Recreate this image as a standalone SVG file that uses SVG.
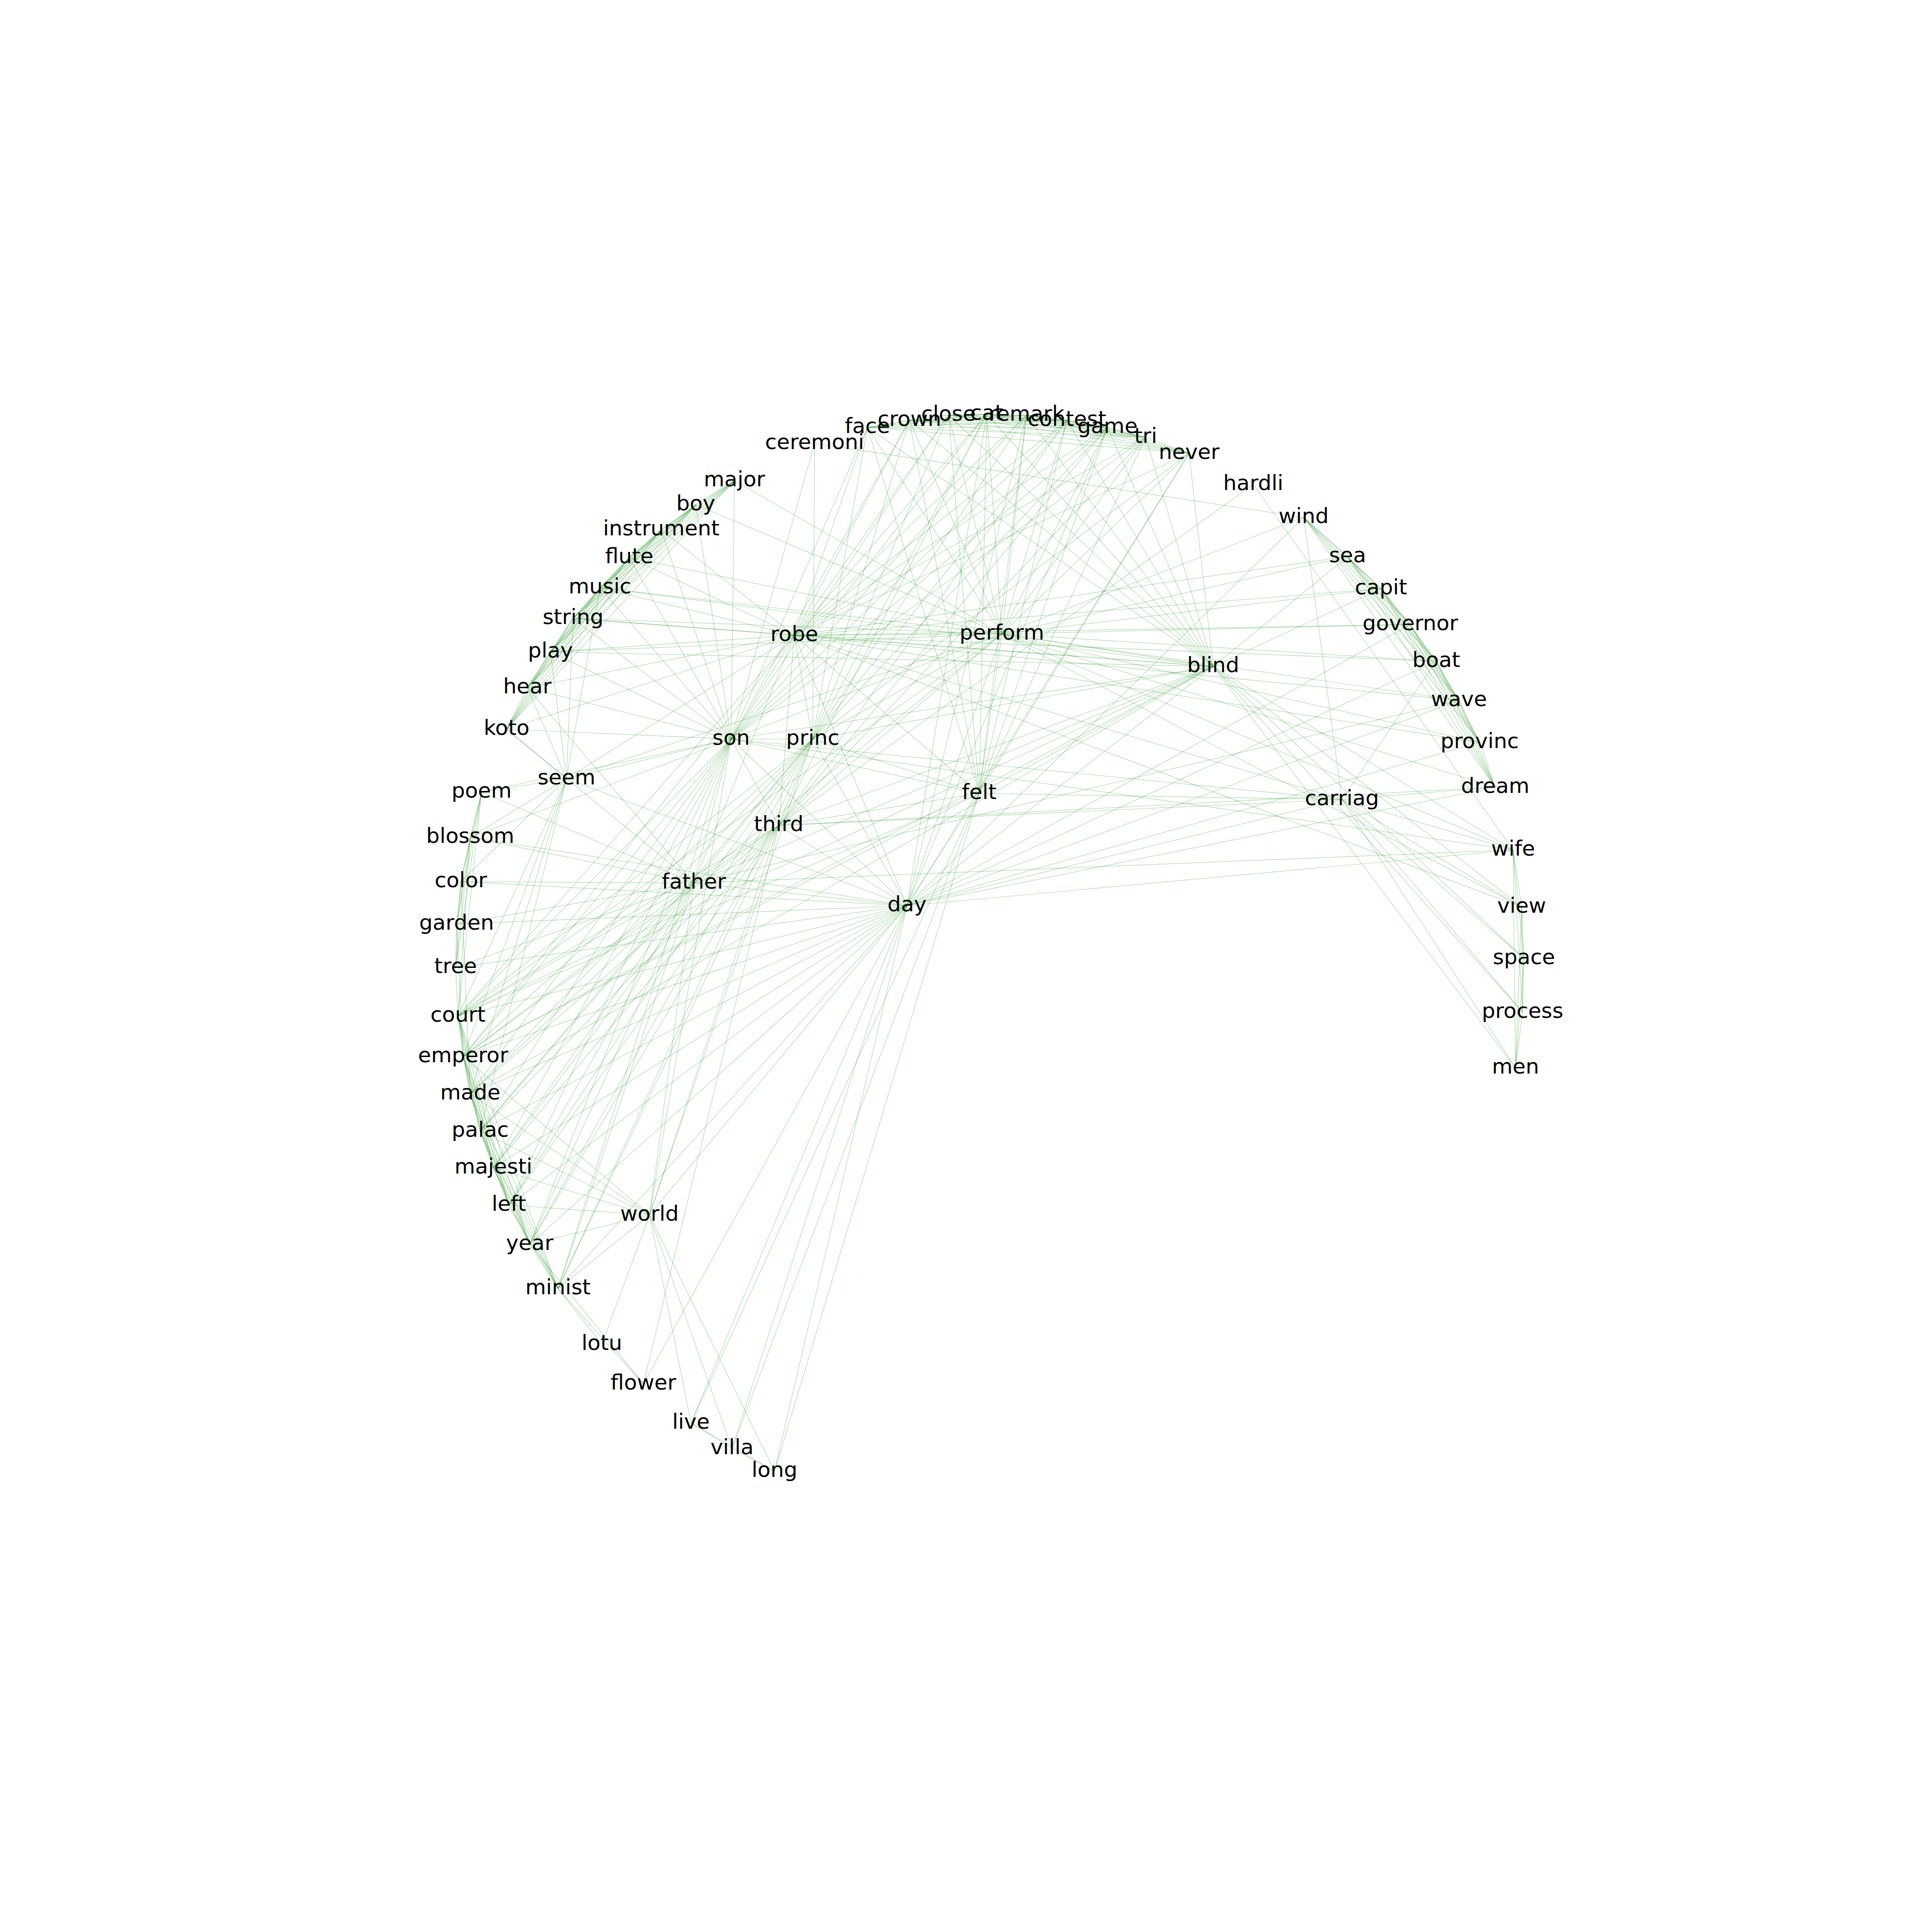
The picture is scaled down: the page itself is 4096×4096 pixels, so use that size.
<svg xmlns="http://www.w3.org/2000/svg" width="4096" height="4096" viewBox="0 0 4096 4096">
<style>
.e{stroke:#008000;stroke-opacity:0.3;stroke-width:1.2;fill:none}
text{font-family:"DejaVu Sans","Liberation Sans",sans-serif;font-size:45px;fill:#000;text-anchor:middle}
</style>
<rect width="4096" height="4096" fill="#fff"/>
<g id="edges">
<path class="e" d="M1557 1019L1475 1070"/><path class="e" d="M1557 1019L1402 1123"/><path class="e" d="M1557 1019L1334 1182"/><path class="e" d="M1557 1019L1272 1246"/><path class="e" d="M1557 1019L1215 1311"/><path class="e" d="M1557 1019L1167 1382"/><path class="e" d="M1557 1019L1118 1458"/><path class="e" d="M1557 1019L1074 1546"/>
<path class="e" d="M1475 1070L1402 1123"/><path class="e" d="M1475 1070L1334 1182"/><path class="e" d="M1475 1070L1272 1246"/><path class="e" d="M1475 1070L1215 1311"/><path class="e" d="M1475 1070L1167 1382"/><path class="e" d="M1475 1070L1118 1458"/><path class="e" d="M1475 1070L1074 1546"/>
<path class="e" d="M1402 1123L1334 1182"/><path class="e" d="M1402 1123L1272 1246"/><path class="e" d="M1402 1123L1215 1311"/><path class="e" d="M1402 1123L1167 1382"/><path class="e" d="M1402 1123L1118 1458"/><path class="e" d="M1402 1123L1074 1546"/>
<path class="e" d="M1334 1182L1272 1246"/><path class="e" d="M1334 1182L1215 1311"/><path class="e" d="M1334 1182L1167 1382"/><path class="e" d="M1334 1182L1118 1458"/><path class="e" d="M1334 1182L1074 1546"/>
<path class="e" d="M1272 1246L1215 1311"/><path class="e" d="M1272 1246L1167 1382"/><path class="e" d="M1272 1246L1118 1458"/><path class="e" d="M1272 1246L1074 1546"/>
<path class="e" d="M1215 1311L1167 1382"/><path class="e" d="M1215 1311L1118 1458"/><path class="e" d="M1215 1311L1074 1546"/>
<path class="e" d="M1167 1382L1118 1458"/><path class="e" d="M1167 1382L1074 1546"/><path class="e" d="M1118 1458L1074 1546"/>
<path class="e" d="M1839 906L1928 891"/><path class="e" d="M1839 906L2011 880"/><path class="e" d="M1839 906L2092 878"/><path class="e" d="M1839 906L2176 880"/><path class="e" d="M1839 906L2262 891"/><path class="e" d="M1839 906L2348 906"/><path class="e" d="M1839 906L2429 927"/><path class="e" d="M1839 906L2521 961"/>
<path class="e" d="M1928 891L2011 880"/><path class="e" d="M1928 891L2092 878"/><path class="e" d="M1928 891L2176 880"/><path class="e" d="M1928 891L2262 891"/><path class="e" d="M1928 891L2348 906"/><path class="e" d="M1928 891L2429 927"/><path class="e" d="M1928 891L2521 961"/>
<path class="e" d="M2011 880L2092 878"/><path class="e" d="M2011 880L2176 880"/><path class="e" d="M2011 880L2262 891"/><path class="e" d="M2011 880L2348 906"/><path class="e" d="M2011 880L2429 927"/><path class="e" d="M2011 880L2521 961"/>
<path class="e" d="M2092 878L2176 880"/><path class="e" d="M2092 878L2262 891"/><path class="e" d="M2092 878L2348 906"/><path class="e" d="M2092 878L2429 927"/><path class="e" d="M2092 878L2521 961"/>
<path class="e" d="M2176 880L2262 891"/><path class="e" d="M2176 880L2348 906"/><path class="e" d="M2176 880L2429 927"/><path class="e" d="M2176 880L2521 961"/>
<path class="e" d="M2262 891L2348 906"/><path class="e" d="M2262 891L2429 927"/><path class="e" d="M2262 891L2521 961"/>
<path class="e" d="M2348 906L2429 927"/><path class="e" d="M2348 906L2521 961"/><path class="e" d="M2429 927L2521 961"/>
<path class="e" d="M2764 1097L2857 1180"/><path class="e" d="M2764 1097L2928 1248"/><path class="e" d="M2764 1097L2990 1324"/><path class="e" d="M2764 1097L3045 1402"/><path class="e" d="M2764 1097L3093 1485"/><path class="e" d="M2764 1097L3137 1574"/><path class="e" d="M2764 1097L3170 1669"/>
<path class="e" d="M2857 1180L2928 1248"/><path class="e" d="M2857 1180L2990 1324"/><path class="e" d="M2857 1180L3045 1402"/><path class="e" d="M2857 1180L3093 1485"/><path class="e" d="M2857 1180L3137 1574"/><path class="e" d="M2857 1180L3170 1669"/>
<path class="e" d="M2928 1248L2990 1324"/><path class="e" d="M2928 1248L3045 1402"/><path class="e" d="M2928 1248L3093 1485"/><path class="e" d="M2928 1248L3137 1574"/><path class="e" d="M2928 1248L3170 1669"/>
<path class="e" d="M2990 1324L3045 1402"/><path class="e" d="M2990 1324L3093 1485"/><path class="e" d="M2990 1324L3137 1574"/><path class="e" d="M2990 1324L3170 1669"/>
<path class="e" d="M3045 1402L3093 1485"/><path class="e" d="M3045 1402L3137 1574"/><path class="e" d="M3045 1402L3170 1669"/>
<path class="e" d="M3093 1485L3137 1574"/><path class="e" d="M3093 1485L3170 1669"/><path class="e" d="M3137 1574L3170 1669"/>
<path class="e" d="M3208 1802L3226 1923"/><path class="e" d="M3208 1802L3231 2032"/><path class="e" d="M3208 1802L3228 2146"/><path class="e" d="M3208 1802L3213 2264"/><path class="e" d="M3226 1923L3231 2032"/><path class="e" d="M3226 1923L3228 2146"/><path class="e" d="M3226 1923L3213 2264"/><path class="e" d="M3231 2032L3228 2146"/><path class="e" d="M3231 2032L3213 2264"/><path class="e" d="M3228 2146L3213 2264"/>
<path class="e" d="M1021 1679L997 1775"/><path class="e" d="M1021 1679L977 1869"/><path class="e" d="M1021 1679L968 1959"/><path class="e" d="M1021 1679L966 2051"/><path class="e" d="M997 1775L977 1869"/><path class="e" d="M997 1775L968 1959"/><path class="e" d="M997 1775L966 2051"/><path class="e" d="M977 1869L968 1959"/><path class="e" d="M977 1869L966 2051"/><path class="e" d="M968 1959L966 2051"/>
<path class="e" d="M971 2154L982 2240"/><path class="e" d="M971 2154L997 2319"/><path class="e" d="M971 2154L1018 2398"/><path class="e" d="M971 2154L1046 2476"/><path class="e" d="M971 2154L1079 2555"/><path class="e" d="M971 2154L1123 2638"/><path class="e" d="M971 2154L1183 2732"/>
<path class="e" d="M982 2240L997 2319"/><path class="e" d="M982 2240L1018 2398"/><path class="e" d="M982 2240L1046 2476"/><path class="e" d="M982 2240L1079 2555"/><path class="e" d="M982 2240L1123 2638"/><path class="e" d="M982 2240L1183 2732"/>
<path class="e" d="M997 2319L1018 2398"/><path class="e" d="M997 2319L1046 2476"/><path class="e" d="M997 2319L1079 2555"/><path class="e" d="M997 2319L1123 2638"/><path class="e" d="M997 2319L1183 2732"/>
<path class="e" d="M1018 2398L1046 2476"/><path class="e" d="M1018 2398L1079 2555"/><path class="e" d="M1018 2398L1123 2638"/><path class="e" d="M1018 2398L1183 2732"/>
<path class="e" d="M1046 2476L1079 2555"/><path class="e" d="M1046 2476L1123 2638"/><path class="e" d="M1046 2476L1183 2732"/>
<path class="e" d="M1079 2555L1123 2638"/><path class="e" d="M1079 2555L1183 2732"/><path class="e" d="M1123 2638L1183 2732"/>
<path class="e" d="M1465 3017L1552 3071"/><path class="e" d="M1465 3017L1642 3119"/><path class="e" d="M1552 3071L1642 3119"/>
<path class="e" d="M1021 1679L971 2154"/><path class="e" d="M997 1775L971 2154"/><path class="e" d="M966 2051L971 2154"/><path class="e" d="M968 1959L982 2240"/><path class="e" d="M977 1869L997 2319"/>
<path class="e" d="M1727 940L2764 1097"/><path class="e" d="M2657 1027L3208 1802"/><path class="e" d="M2764 1097L2124 1344"/><path class="e" d="M1276 2850L1183 2732"/><path class="e" d="M1364 2934L1183 2732"/><path class="e" d="M1364 2934L1123 2638"/>
<path class="e" d="M1550 1567L1557 1019"/><path class="e" d="M1550 1567L1475 1070"/><path class="e" d="M1550 1567L1402 1123"/><path class="e" d="M1550 1567L1334 1182"/><path class="e" d="M1550 1567L1272 1246"/><path class="e" d="M1550 1567L1215 1311"/><path class="e" d="M1550 1567L1167 1382"/><path class="e" d="M1550 1567L1118 1458"/><path class="e" d="M1550 1567L1074 1546"/>
<path class="e" d="M1550 1567L971 2154"/><path class="e" d="M1550 1567L982 2240"/><path class="e" d="M1550 1567L997 2319"/><path class="e" d="M1550 1567L1018 2398"/><path class="e" d="M1550 1567L1046 2476"/><path class="e" d="M1550 1567L1079 2555"/><path class="e" d="M1550 1567L1123 2638"/><path class="e" d="M1550 1567L1183 2732"/>
<path class="e" d="M1550 1567L1839 906"/><path class="e" d="M1550 1567L1928 891"/><path class="e" d="M1550 1567L2011 880"/><path class="e" d="M1550 1567L2092 878"/><path class="e" d="M1550 1567L2176 880"/><path class="e" d="M1550 1567L2262 891"/><path class="e" d="M1550 1567L2348 906"/><path class="e" d="M1550 1567L2429 927"/>
<path class="e" d="M1550 1567L1684 1347"/><path class="e" d="M1550 1567L1723 1567"/><path class="e" d="M1550 1567L1651 1750"/><path class="e" d="M1550 1567L1471 1872"/><path class="e" d="M1550 1567L1923 1920"/><path class="e" d="M1550 1567L2076 1682"/><path class="e" d="M1550 1567L1201 1651"/><path class="e" d="M1550 1567L2124 1344"/><path class="e" d="M1550 1567L1377 2576"/><path class="e" d="M1550 1567L1727 940"/><path class="e" d="M1550 1567L997 1775"/><path class="e" d="M1550 1567L1021 1679"/><path class="e" d="M1550 1567L2845 1695"/><path class="e" d="M1550 1567L2572 1413"/><path class="e" d="M1550 1567L3208 1802"/>
<path class="e" d="M1684 1347L1839 906"/><path class="e" d="M1684 1347L1928 891"/><path class="e" d="M1684 1347L2011 880"/><path class="e" d="M1684 1347L2092 878"/><path class="e" d="M1684 1347L2176 880"/><path class="e" d="M1684 1347L2262 891"/><path class="e" d="M1684 1347L2348 906"/><path class="e" d="M1684 1347L2429 927"/><path class="e" d="M1684 1347L2521 961"/>
<path class="e" d="M1684 1347L1215 1311"/><path class="e" d="M1684 1347L1167 1382"/><path class="e" d="M1684 1347L1118 1458"/><path class="e" d="M1684 1347L1272 1246"/><path class="e" d="M1684 1347L1334 1182"/><path class="e" d="M1684 1347L1074 1546"/><path class="e" d="M1684 1347L1402 1123"/>
<path class="e" d="M1684 1347L2990 1324"/><path class="e" d="M1684 1347L3045 1402"/><path class="e" d="M1684 1347L3093 1485"/><path class="e" d="M1684 1347L2928 1248"/><path class="e" d="M1684 1347L2857 1180"/><path class="e" d="M1684 1347L3137 1574"/>
<path class="e" d="M1684 1347L2124 1344"/><path class="e" d="M1684 1347L1723 1567"/><path class="e" d="M1684 1347L1651 1750"/><path class="e" d="M1684 1347L1471 1872"/><path class="e" d="M1684 1347L1923 1920"/><path class="e" d="M1684 1347L1201 1651"/><path class="e" d="M1684 1347L2572 1413"/><path class="e" d="M1684 1347L2076 1682"/><path class="e" d="M1684 1347L971 2154"/><path class="e" d="M1684 1347L982 2240"/><path class="e" d="M1684 1347L3226 1923"/><path class="e" d="M1684 1347L2845 1695"/>
<path class="e" d="M2124 1344L1839 906"/><path class="e" d="M2124 1344L1928 891"/><path class="e" d="M2124 1344L2011 880"/><path class="e" d="M2124 1344L2092 878"/><path class="e" d="M2124 1344L2176 880"/><path class="e" d="M2124 1344L2262 891"/><path class="e" d="M2124 1344L2348 906"/><path class="e" d="M2124 1344L2429 927"/><path class="e" d="M2124 1344L2521 961"/>
<path class="e" d="M2124 1344L2857 1180"/><path class="e" d="M2124 1344L2928 1248"/><path class="e" d="M2124 1344L2990 1324"/><path class="e" d="M2124 1344L3045 1402"/><path class="e" d="M2124 1344L3093 1485"/><path class="e" d="M2124 1344L3137 1574"/><path class="e" d="M2124 1344L3170 1669"/>
<path class="e" d="M2124 1344L1272 1246"/><path class="e" d="M2124 1344L1215 1311"/><path class="e" d="M2124 1344L1167 1382"/><path class="e" d="M2124 1344L1334 1182"/><path class="e" d="M2124 1344L1557 1019"/><path class="e" d="M2124 1344L1475 1070"/>
<path class="e" d="M2124 1344L3208 1802"/><path class="e" d="M2124 1344L3226 1923"/><path class="e" d="M2124 1344L2572 1413"/><path class="e" d="M2124 1344L2076 1682"/><path class="e" d="M2124 1344L1923 1920"/><path class="e" d="M2124 1344L1723 1567"/><path class="e" d="M2124 1344L1651 1750"/><path class="e" d="M2124 1344L1201 1651"/><path class="e" d="M2124 1344L1471 1872"/><path class="e" d="M2124 1344L971 2154"/>
<path class="e" d="M1723 1567L1839 906"/><path class="e" d="M1723 1567L1928 891"/><path class="e" d="M1723 1567L2011 880"/><path class="e" d="M1723 1567L2092 878"/><path class="e" d="M1723 1567L2176 880"/><path class="e" d="M1723 1567L2262 891"/><path class="e" d="M1723 1567L2348 906"/><path class="e" d="M1723 1567L2521 961"/>
<path class="e" d="M1723 1567L971 2154"/><path class="e" d="M1723 1567L982 2240"/><path class="e" d="M1723 1567L997 2319"/><path class="e" d="M1723 1567L1018 2398"/><path class="e" d="M1723 1567L1046 2476"/><path class="e" d="M1723 1567L1079 2555"/><path class="e" d="M1723 1567L1123 2638"/><path class="e" d="M1723 1567L1183 2732"/>
<path class="e" d="M1723 1567L1651 1750"/><path class="e" d="M1723 1567L2076 1682"/><path class="e" d="M1723 1567L1923 1920"/><path class="e" d="M1723 1567L2572 1413"/><path class="e" d="M1723 1567L1471 1872"/><path class="e" d="M1723 1567L1377 2576"/><path class="e" d="M1723 1567L1727 940"/>
<path class="e" d="M1651 1750L971 2154"/><path class="e" d="M1651 1750L982 2240"/><path class="e" d="M1651 1750L997 2319"/><path class="e" d="M1651 1750L1018 2398"/><path class="e" d="M1651 1750L1046 2476"/><path class="e" d="M1651 1750L1079 2555"/><path class="e" d="M1651 1750L1123 2638"/><path class="e" d="M1651 1750L1183 2732"/>
<path class="e" d="M1651 1750L2076 1682"/><path class="e" d="M1651 1750L1923 1920"/><path class="e" d="M1651 1750L1471 1872"/><path class="e" d="M1651 1750L1377 2576"/><path class="e" d="M1651 1750L1364 2934"/><path class="e" d="M1651 1750L2657 1027"/><path class="e" d="M1651 1750L2429 927"/><path class="e" d="M1651 1750L2348 906"/><path class="e" d="M1651 1750L2262 891"/><path class="e" d="M1651 1750L2092 878"/><path class="e" d="M1651 1750L2845 1695"/><path class="e" d="M1651 1750L3170 1669"/><path class="e" d="M1651 1750L2572 1413"/>
<path class="e" d="M1471 1872L971 2154"/><path class="e" d="M1471 1872L982 2240"/><path class="e" d="M1471 1872L997 2319"/><path class="e" d="M1471 1872L1018 2398"/><path class="e" d="M1471 1872L1046 2476"/><path class="e" d="M1471 1872L1079 2555"/><path class="e" d="M1471 1872L1123 2638"/><path class="e" d="M1471 1872L1183 2732"/>
<path class="e" d="M1471 1872L977 1869"/><path class="e" d="M1471 1872L968 1959"/><path class="e" d="M1471 1872L966 2051"/><path class="e" d="M1471 1872L997 1775"/><path class="e" d="M1471 1872L1021 1679"/><path class="e" d="M1471 1872L1923 1920"/><path class="e" d="M1471 1872L1377 2576"/><path class="e" d="M1471 1872L1074 1546"/><path class="e" d="M1471 1872L1118 1458"/><path class="e" d="M1471 1872L2572 1413"/><path class="e" d="M1471 1872L3093 1485"/><path class="e" d="M1471 1872L3208 1802"/>
<path class="e" d="M1923 1920L977 1869"/><path class="e" d="M1923 1920L968 1959"/><path class="e" d="M1923 1920L966 2051"/><path class="e" d="M1923 1920L997 1775"/><path class="e" d="M1923 1920L971 2154"/><path class="e" d="M1923 1920L982 2240"/><path class="e" d="M1923 1920L997 2319"/><path class="e" d="M1923 1920L1018 2398"/><path class="e" d="M1923 1920L1046 2476"/><path class="e" d="M1923 1920L1079 2555"/><path class="e" d="M1923 1920L1123 2638"/><path class="e" d="M1923 1920L1183 2732"/>
<path class="e" d="M1923 1920L3208 1802"/><path class="e" d="M1923 1920L3170 1669"/><path class="e" d="M1923 1920L3137 1574"/><path class="e" d="M1923 1920L3093 1485"/><path class="e" d="M1923 1920L3045 1402"/><path class="e" d="M1923 1920L2990 1324"/><path class="e" d="M1923 1920L2845 1695"/><path class="e" d="M1923 1920L2572 1413"/><path class="e" d="M1923 1920L2076 1682"/>
<path class="e" d="M1923 1920L1465 3017"/><path class="e" d="M1923 1920L1552 3071"/><path class="e" d="M1923 1920L1642 3119"/><path class="e" d="M1923 1920L1364 2934"/><path class="e" d="M1923 1920L1377 2576"/><path class="e" d="M1923 1920L2092 878"/><path class="e" d="M1923 1920L2176 880"/><path class="e" d="M1923 1920L2348 906"/><path class="e" d="M1923 1920L2521 961"/><path class="e" d="M1923 1920L1201 1651"/><path class="e" d="M1923 1920L2764 1097"/>
<path class="e" d="M2076 1682L1839 906"/><path class="e" d="M2076 1682L1928 891"/><path class="e" d="M2076 1682L2011 880"/><path class="e" d="M2076 1682L2092 878"/><path class="e" d="M2076 1682L2176 880"/><path class="e" d="M2076 1682L2262 891"/><path class="e" d="M2076 1682L2348 906"/><path class="e" d="M2076 1682L2429 927"/><path class="e" d="M2076 1682L2521 961"/>
<path class="e" d="M2076 1682L1465 3017"/><path class="e" d="M2076 1682L1552 3071"/><path class="e" d="M2076 1682L1642 3119"/><path class="e" d="M2076 1682L2572 1413"/><path class="e" d="M2076 1682L2845 1695"/><path class="e" d="M2076 1682L971 2154"/><path class="e" d="M2076 1682L982 2240"/>
<path class="e" d="M2572 1413L1839 906"/><path class="e" d="M2572 1413L1928 891"/><path class="e" d="M2572 1413L2011 880"/><path class="e" d="M2572 1413L2092 878"/><path class="e" d="M2572 1413L2176 880"/><path class="e" d="M2572 1413L2262 891"/><path class="e" d="M2572 1413L2348 906"/><path class="e" d="M2572 1413L2429 927"/><path class="e" d="M2572 1413L2521 961"/>
<path class="e" d="M2572 1413L3208 1802"/><path class="e" d="M2572 1413L3226 1923"/><path class="e" d="M2572 1413L3231 2032"/><path class="e" d="M2572 1413L3228 2146"/><path class="e" d="M2572 1413L3213 2264"/><path class="e" d="M2572 1413L1215 1311"/><path class="e" d="M2572 1413L1167 1382"/><path class="e" d="M2572 1413L1272 1246"/><path class="e" d="M2572 1413L971 2154"/><path class="e" d="M2572 1413L982 2240"/><path class="e" d="M2572 1413L997 2319"/><path class="e" d="M2572 1413L2857 1180"/><path class="e" d="M2572 1413L2928 1248"/>
<path class="e" d="M2845 1695L3208 1802"/><path class="e" d="M2845 1695L3226 1923"/><path class="e" d="M2845 1695L3231 2032"/><path class="e" d="M2845 1695L3228 2146"/><path class="e" d="M2845 1695L3213 2264"/><path class="e" d="M2845 1695L3170 1669"/><path class="e" d="M2845 1695L3045 1402"/><path class="e" d="M2845 1695L2764 1097"/>
<path class="e" d="M1201 1651L1074 1546"/><path class="e" d="M1201 1651L1118 1458"/><path class="e" d="M1201 1651L1167 1382"/><path class="e" d="M1201 1651L1215 1311"/><path class="e" d="M1201 1651L1272 1246"/><path class="e" d="M1201 1651L1021 1679"/><path class="e" d="M1201 1651L997 1775"/><path class="e" d="M1201 1651L977 1869"/><path class="e" d="M1201 1651L971 2154"/><path class="e" d="M1201 1651L982 2240"/><path class="e" d="M1201 1651L997 2319"/><path class="e" d="M1201 1651L1018 2398"/>
<path class="e" d="M1377 2576L1079 2555"/><path class="e" d="M1377 2576L1123 2638"/><path class="e" d="M1377 2576L1046 2476"/><path class="e" d="M1377 2576L1018 2398"/><path class="e" d="M1377 2576L997 2319"/><path class="e" d="M1377 2576L982 2240"/><path class="e" d="M1377 2576L1183 2732"/><path class="e" d="M1377 2576L1276 2850"/><path class="e" d="M1377 2576L1465 3017"/><path class="e" d="M1377 2576L1552 3071"/><path class="e" d="M1377 2576L1642 3119"/>
</g>
<g id="n-ceremoni"><text x="1727" y="952">ceremoni</text></g>
<g id="n-face"><text x="1839" y="918">face</text></g>
<g id="n-crown"><text x="1928" y="903">crown</text></g>
<g id="n-close"><text x="2011" y="892">close</text></g>
<g id="n-cat"><text x="2092" y="890">cat</text></g>
<g id="n-remark"><text x="2176" y="892">remark</text></g>
<g id="n-contest"><text x="2262" y="903">contest</text></g>
<g id="n-game"><text x="2348" y="918">game</text></g>
<g id="n-tri"><text x="2429" y="939">tri</text></g>
<g id="n-never"><text x="2521" y="973">never</text></g>
<g id="n-hardli"><text x="2657" y="1039">hardli</text></g>
<g id="n-wind"><text x="2764" y="1109">wind</text></g>
<g id="n-sea"><text x="2857" y="1192">sea</text></g>
<g id="n-capit"><text x="2928" y="1260">capit</text></g>
<g id="n-governor"><text x="2990" y="1336">governor</text></g>
<g id="n-boat"><text x="3045" y="1414">boat</text></g>
<g id="n-wave"><text x="3093" y="1497">wave</text></g>
<g id="n-provinc"><text x="3137" y="1586">provinc</text></g>
<g id="n-dream"><text x="3170" y="1681">dream</text></g>
<g id="n-carriag"><text x="2845" y="1707">carriag</text></g>
<g id="n-wife"><text x="3208" y="1814">wife</text></g>
<g id="n-view"><text x="3226" y="1935">view</text></g>
<g id="n-space"><text x="3231" y="2044">space</text></g>
<g id="n-process"><text x="3228" y="2158">process</text></g>
<g id="n-men"><text x="3213" y="2276">men</text></g>
<g id="n-blind"><text x="2572" y="1425">blind</text></g>
<g id="n-perform"><text x="2124" y="1356">perform</text></g>
<g id="n-robe"><text x="1684" y="1359">robe</text></g>
<g id="n-son"><text x="1550" y="1579">son</text></g>
<g id="n-princ"><text x="1723" y="1579">princ</text></g>
<g id="n-felt"><text x="2076" y="1694">felt</text></g>
<g id="n-third"><text x="1651" y="1762">third</text></g>
<g id="n-day"><text x="1923" y="1932">day</text></g>
<g id="n-father"><text x="1471" y="1884">father</text></g>
<g id="n-seem"><text x="1201" y="1663">seem</text></g>
<g id="n-major"><text x="1557" y="1031">major</text></g>
<g id="n-boy"><text x="1475" y="1082">boy</text></g>
<g id="n-instrument"><text x="1402" y="1135">instrument</text></g>
<g id="n-flute"><text x="1334" y="1194">flute</text></g>
<g id="n-music"><text x="1272" y="1258">music</text></g>
<g id="n-string"><text x="1215" y="1323">string</text></g>
<g id="n-play"><text x="1167" y="1394">play</text></g>
<g id="n-hear"><text x="1118" y="1470">hear</text></g>
<g id="n-koto"><text x="1074" y="1558">koto</text></g>
<g id="n-poem"><text x="1021" y="1691">poem</text></g>
<g id="n-blossom"><text x="997" y="1787">blossom</text></g>
<g id="n-color"><text x="977" y="1881">color</text></g>
<g id="n-garden"><text x="968" y="1971">garden</text></g>
<g id="n-tree"><text x="966" y="2063">tree</text></g>
<g id="n-court"><text x="971" y="2166">court</text></g>
<g id="n-emperor"><text x="982" y="2252">emperor</text></g>
<g id="n-made"><text x="997" y="2331">made</text></g>
<g id="n-palac"><text x="1018" y="2410">palac</text></g>
<g id="n-majesti"><text x="1046" y="2488">majesti</text></g>
<g id="n-left"><text x="1079" y="2567">left</text></g>
<g id="n-world"><text x="1377" y="2588">world</text></g>
<g id="n-year"><text x="1123" y="2650">year</text></g>
<g id="n-minist"><text x="1183" y="2744">minist</text></g>
<g id="n-lotu"><text x="1276" y="2862">lotu</text></g>
<g id="n-flower"><text x="1364" y="2946">flower</text></g>
<g id="n-live"><text x="1465" y="3029">live</text></g>
<g id="n-villa"><text x="1552" y="3083">villa</text></g>
<g id="n-long"><text x="1642" y="3131">long</text></g>
</svg>
